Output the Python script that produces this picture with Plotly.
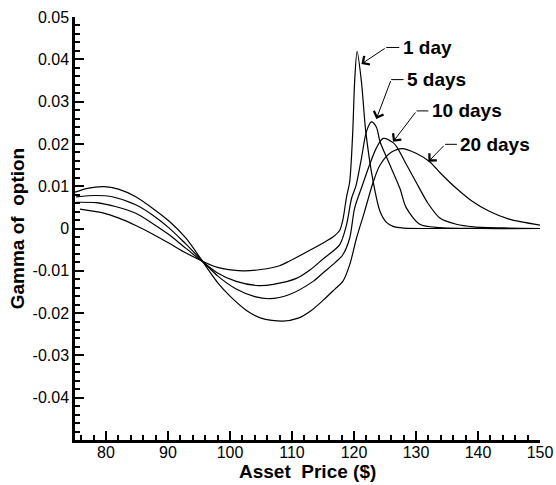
import plotly.graph_objects as go

# ---------------- data ----------------
x_1day = [75.8, 79.5, 82.0, 84.8, 87.5, 90.2, 92.9, 98.0, 102.0, 105.0, 108.0, 109.6,
          112.8, 115.5, 116.6, 117.7, 118.2, 118.8, 119.3, 119.8, 120.1, 120.5, 121.2,
          121.9, 123.1, 124.2, 125.2, 126.3, 128.0, 135.0, 150.0]
g_1day = [0.0046, 0.0037, 0.0025, 0.0007, -0.0013, -0.0035, -0.0058, -0.0092,
          -0.0100, -0.0097, -0.0088, -0.0077, -0.0052, -0.0030, -0.0020, -0.0004, 0.0020,
          0.0075, 0.0110, 0.0229, 0.0347, 0.0419, 0.0347, 0.0229, 0.0110, 0.0040, 0.0015,
          0.0005, 0.0001, 0.0, 0.0]

x_5days = [75.2, 78.4, 81.5, 84.8, 87.5, 90.2, 92.9, 98.0, 101.0, 104.6, 107.0, 110.7,
           113.0, 115.0, 117.7, 118.8, 119.6, 120.3, 121.2, 122.0, 122.8, 123.6, 124.2,
           125.5, 127.4, 128.4, 130.6, 133.9, 140.0, 150.0]
g_5days = [0.0062, 0.0061, 0.0052, 0.0036, 0.0012, -0.0015, -0.0047, -0.0105,
           -0.0125, -0.0135, -0.0132, -0.0118, -0.0097, -0.0072, -0.0038, 0.0009, 0.0071,
           0.0100, 0.0166, 0.0229, 0.0252, 0.0240, 0.0205, 0.0160, 0.0095, 0.0050, 0.0010,
           0.0002, 0.0, 0.0]

x_10days = [75.2, 78.4, 81.0, 84.8, 87.5, 90.2, 92.9, 98.0, 101.0, 104.0, 106.4, 109.6,
            113.4, 115.0, 117.0, 118.2, 119.3, 120.1, 121.3, 122.5, 123.6, 124.7, 126.3,
            126.9, 128.5, 130.0, 132.0, 133.9, 136.5, 139.3, 145.0, 150.0]
g_10days = [0.0075, 0.0078, 0.0075, 0.0056, 0.0032, 0.0001, -0.0037, -0.0112,
            -0.0143, -0.0161, -0.0166, -0.0156, -0.0125, -0.0105, -0.0080, -0.0062, -0.0023,
            0.0048, 0.0100, 0.0150, 0.0190, 0.0213, 0.0203, 0.0193, 0.0150, 0.0110, 0.0058,
            0.0024, 0.0010, 0.0004, 0.0001, 0.0]

x_20days = [75.0, 77.0, 79.7, 82.0, 84.8, 87.5, 90.2, 92.9, 98.0, 100.0, 102.6, 105.0,
            108.5, 111.0, 113.0, 115.0, 117.0, 118.2, 119.3, 120.4, 121.7, 123.1, 124.2,
            126.0, 127.8, 130.0, 132.2, 134.0, 136.5, 139.0, 141.9, 145.0, 150.0]
g_20days = [0.0086, 0.0095, 0.0099, 0.0093, 0.0075, 0.0048, 0.0017, -0.0023,
            -0.0128, -0.0160, -0.0193, -0.0212, -0.0219, -0.0212, -0.0195, -0.0170, -0.0142,
            -0.0125, -0.0086, -0.0023, 0.0040, 0.0110, 0.0150, 0.0180, 0.0189, 0.0178,
            0.0158, 0.0130, 0.0095, 0.0065, 0.0040, 0.0022, 0.0008]

series_names = ["1 day", "5 days", "10 days", "20 days"]
series_x = [x_1day, x_5days, x_10days, x_20days]
series_y = [g_1day, g_5days, g_10days, g_20days]

x_ticks = [80, 90, 100, 110, 120, 130, 140, 150]
y_ticks = [-0.04, -0.03, -0.02, -0.01, 0, 0.01, 0.02, 0.03, 0.04, 0.05]
y_ticktext = ["-0.04", "-0.03", "-0.02", "-0.01", "0", "0.01", "0.02", "0.03", "0.04", "0.05"]

x_title = "Asset\u00a0 Price ($)"
y_title = "Gamma of\u00a0 option"

# label placement (layout, data coords): text start, leader corner, arrow tip
label_text_pos = [(127.5, 0.0428), (128.2, 0.0352), (132.2, 0.0278), (136.8, 0.0199)]
label_corner = [(125.2, 0.0428), (126.0, 0.0352), (130.1, 0.0278), (134.7, 0.0199)]
label_tip = [(121.2, 0.0389), (123.6, 0.0259), (126.3, 0.0205), (132.0, 0.0158)]

FONT = "Liberation Sans, Arial, sans-serif"

fig = go.Figure()
for name, xs, ys in zip(series_names, series_x, series_y):
    fig.add_trace(go.Scatter(x=xs, y=ys, mode="lines", name=name,
                             line=dict(color="black", width=1.2, shape="spline", smoothing=0.8),
                             showlegend=False))

for name, tpos, cpos, tip in zip(series_names, label_text_pos, label_corner, label_tip):
    fig.add_annotation(x=tpos[0], y=tpos[1], xref="x", yref="y", text="<b>%s</b>" % name,
                       showarrow=False, xanchor="left", yanchor="middle",
                       font=dict(family=FONT, size=19, color="black"))
    fig.add_shape(type="line", xref="x", yref="y", x0=cpos[0], y0=cpos[1],
                  x1=tpos[0] - 0.2, y1=tpos[1], line=dict(color="black", width=1))
    fig.add_annotation(x=tip[0], y=tip[1], ax=cpos[0], ay=cpos[1], xref="x", yref="y",
                       axref="x", ayref="y", text="", showarrow=True, arrowhead=4,
                       arrowsize=2.0, arrowwidth=1, arrowcolor="black")

# axis titles
fig.add_annotation(x=0.5, y=-0.0745, xref="paper", yref="paper", text="<b>%s</b>" % x_title,
                   showarrow=False, xanchor="center", yanchor="middle",
                   font=dict(family=FONT, size=19, color="black"))
fig.add_annotation(x=-0.123, y=0.5, xref="paper", yref="paper", text="<b>%s</b>" % y_title,
                   showarrow=False, xanchor="center", yanchor="middle", textangle=-90,
                   font=dict(family=FONT, size=19, color="black"))

axis_common = dict(showline=True, linecolor="black", linewidth=2.5, ticks="inside",
                   tickwidth=2, ticklen=9, tickcolor="black", showgrid=False, zeroline=False,
                   mirror=False, automargin=False,
                   tickfont=dict(family=FONT, size=16, color="black"))

fig.update_xaxes(range=[75, 150], tickvals=x_ticks, ticktext=[str(v) for v in x_ticks],
                 minor=dict(ticks="inside", dtick=2, tick0=0, ticklen=5, tickwidth=1.5,
                            tickcolor="black", showgrid=False),
                 ticklabelstandoff=-4, **axis_common)
fig.update_yaxes(range=[-0.05, 0.05], tickvals=y_ticks, ticktext=y_ticktext,
                 minor=dict(ticks="inside", dtick=0.002, tick0=0, ticklen=5, tickwidth=1.5,
                            tickcolor="black", showgrid=False),
                 **axis_common)

fig.update_layout(width=556, height=485, margin=dict(l=75, r=16, t=17, b=45),
                  plot_bgcolor="white", paper_bgcolor="white")

fig.write_html("out.html")
